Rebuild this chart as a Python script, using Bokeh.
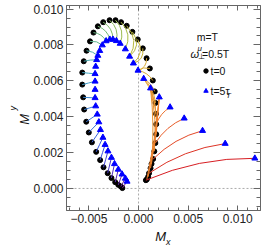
import numpy as np
from bokeh.plotting import figure
from bokeh.models import (Range1d, LinearAxis, Span, Label, Legend, LegendItem,
                          CustomJSTickFormatter, FixedTicker, ColumnDataSource)
from bokeh.embed import file_html
from bokeh.resources import INLINE

FONT = "Liberation Sans"

# magnetisation at t = 0 (black dots)
mx0 = [-0.00163, -0.00178, -0.00204, -0.00235, -0.00273, -0.00311, -0.00353, -0.00387,
       -0.00427, -0.00470, -0.00501, -0.00527, -0.00548, -0.00558, -0.00567, -0.00567,
       -0.00552, -0.00524, -0.00489, -0.00454, -0.00410, -0.00356, -0.00292, -0.00232,
       -0.00176, -0.00119, -0.00062, -0.00008, 0.00043, 0.00081, 0.00114, 0.00144,
       0.00163, 0.00171, 0.00176, 0.00178, 0.00178, 0.00169, 0.00159, 0.00147,
       0.00131, 0.00121, 0.00106, 0.00097, 0.00084, 0.00074]
my0 = [0.00002, 0.00011, 0.00020, 0.00035, 0.00058, 0.00085, 0.00118, 0.00158,
       0.00204, 0.00257, 0.00312, 0.00372, 0.00440, 0.00508, 0.00579, 0.00646,
       0.00709, 0.00768, 0.00820, 0.00869, 0.00904, 0.00927, 0.00938, 0.00938,
       0.00927, 0.00907, 0.00873, 0.00831, 0.00781, 0.00726, 0.00669, 0.00602,
       0.00541, 0.00477, 0.00416, 0.00358, 0.00302, 0.00253, 0.00207, 0.00164,
       0.00137, 0.00113, 0.00085, 0.00065, 0.00051, 0.00046]

# magnetisation at t = 5 tau_T (blue triangles)
mx5 = [-0.00116, -0.00133, -0.00166, -0.00204, -0.00242, -0.00273, -0.00308, -0.00337,
       -0.00359, -0.00384, -0.00400, -0.00416, -0.00432, -0.00438, -0.00438, -0.00438,
       -0.00438, -0.00432, -0.00422, -0.00410, -0.00391, -0.00365, -0.00327, -0.00289,
       -0.00258, -0.00223, -0.00185, -0.00133, -0.00090, -0.00052, -0.00005, 0.00052,
       0.00121, 0.00209, 0.00318, 0.00460, 0.00645, 0.00873, 0.01172]
my5 = [0.00039, 0.00056, 0.00079, 0.00106, 0.00137, 0.00172, 0.00208, 0.00244,
       0.00284, 0.00327, 0.00370, 0.00413, 0.00459, 0.00505, 0.00551, 0.00597,
       0.00639, 0.00680, 0.00717, 0.00741, 0.00768, 0.00799, 0.00822, 0.00831,
       0.00831, 0.00823, 0.00808, 0.00777, 0.00736, 0.00698, 0.00658, 0.00612,
       0.00559, 0.00509, 0.00453, 0.00391, 0.00322, 0.00250, 0.00168]

# end point (index into mx5/my5) reached by each trajectory starting at mx0/my0
end_idx = [0, 1, 2, 3, 4, 5, 6, 7, 8, 9, 10, 11, 12, 13,
           15, 16, 18, 19, 21, 22, 23, 24, 25, 26, 27, 28, 28, 29, 29, 30,
           30, 30, 31, 31, 31, 34, 32, 35, 32, 36, 32, 33, 37, 33, 33, 38]

# sideways bend of each trajectory (style, px)
bend = [0] * 14 + [0, 0, 1, 2, 3, 4, 5, 6, 7, 8, 10, 12, 12, 10, 8, 6] + \
       [-3, -4, -3, -5, -6, 4, -5, 6, -5, 8, -4, -3, 10, -3, -3, 12]

x_major = [-0.005, 0.0, 0.005, 0.010]
x_minor = [round(-0.007 + 0.001 * i, 4) for i in range(20)]
y_major = [0.000, 0.002, 0.004, 0.006, 0.008, 0.010]
y_minor = [round(-0.001 + 0.0005 * i, 5) for i in range(23)]

# colours along the family (rainbow)
stops_t = [0.00, 0.10, 0.20, 0.32, 0.42, 0.52, 0.62, 0.72, 0.80, 0.87, 0.94, 1.00]
stops_rgb = [(115, 25, 140), (85, 45, 190), (55, 85, 225), (60, 130, 215), (65, 165, 195),
             (85, 175, 160), (120, 185, 110), (175, 190, 65), (225, 170, 50), (240, 130, 45),
             (230, 80, 40), (215, 30, 35)]


def cmap(t):
    r = np.interp(t, stops_t, [c[0] for c in stops_rgb])
    g = np.interp(t, stops_t, [c[1] for c in stops_rgb])
    b = np.interp(t, stops_t, [c[2] for c in stops_rgb])
    return "#%02x%02x%02x" % (int(r), int(g), int(b))


# geometry of the quadratic curves
kx, ky = 10540.0, 18100.0
x0 = np.array(mx0)
y0 = np.array(my0)
x1 = np.array(mx5)[end_idx]
y1 = np.array(my5)[end_idx]
dxp = (x1 - x0) * kx
dyp = (y1 - y0) * ky
L = np.hypot(dxp, dyp)
nx = -dyp / L
ny = dxp / L
bnd = np.array(bend, dtype=float)
cx = (x0 + x1) / 2 + bnd * nx / kx
cy = (y0 + y1) / 2 + bnd * ny / ky
colors = [cmap(j / (len(mx5) - 1)) for j in end_idx]

curves = ColumnDataSource(dict(x0=x0, y0=y0, x1=x1, y1=y1, cx=cx, cy=cy, c=colors))

p = figure(width=267, height=249, x_range=Range1d(-0.00726, 0.01229),
           y_range=Range1d(-0.00123, 0.0102), output_backend="svg", toolbar_location=None,
           min_border_left=54, min_border_right=7, min_border_top=5, min_border_bottom=37)
p.xgrid.visible = False
p.ygrid.visible = False
p.outline_line_color = "#666666"

fmt = CustomJSTickFormatter(code="return (tick < -1e-9 ? '\u2212' : '') + Math.abs(tick).toFixed(3);")
blank = CustomJSTickFormatter(code="return '';")

xt = FixedTicker(ticks=x_major, minor_ticks=x_minor)
yt = FixedTicker(ticks=y_major, minor_ticks=y_minor)


def style_axis(ax, major_in, minor_in, labels):
    ax.axis_line_color = "#666666"
    ax.major_tick_line_color = "#666666"
    ax.minor_tick_line_color = "#666666"
    ax.major_tick_in = major_in
    ax.major_tick_out = 0
    ax.minor_tick_in = minor_in
    ax.minor_tick_out = 0
    if labels:
        ax.formatter = fmt
        ax.major_label_text_font = FONT
        ax.major_label_text_font_size = "12px"
        ax.major_label_text_color = "#222222"
        ax.major_label_standoff = 3
    else:
        ax.formatter = blank
        ax.major_label_standoff = 0


p.xaxis.ticker = xt
p.yaxis.ticker = yt
style_axis(p.xaxis[0], 5, 3, True)
style_axis(p.yaxis[0], 7, 4, True)
ax_top = LinearAxis(ticker=xt)
ax_right = LinearAxis(ticker=yt)
style_axis(ax_top, 5, 3, False)
style_axis(ax_right, 7, 4, False)
p.add_layout(ax_top, "above")
p.add_layout(ax_right, "right")


# axis titles (M with subscript), written as single tick labels of bare axes
def title_axis(pos, text, size, standoff, orient):
    ax = LinearAxis(ticker=FixedTicker(ticks=[pos], minor_ticks=[]),
                    formatter=CustomJSTickFormatter(code="return '%s';" % text))
    ax.axis_line_color = None
    ax.major_tick_line_color = None
    ax.minor_tick_line_color = None
    ax.major_tick_in = 0
    ax.major_tick_out = 0
    ax.major_label_text_font = FONT
    ax.major_label_text_font_size = size
    ax.major_label_text_font_style = "italic"
    ax.major_label_text_color = "#111111"
    ax.major_label_standoff = standoff
    ax.major_label_orientation = orient
    return ax


p.add_layout(title_axis(0.00223, "M", "13px", 3, "horizontal"), "below")
p.add_layout(title_axis(0.00299, "x", "9px", -10, "horizontal"), "below")
p.add_layout(title_axis(0.00415, "M", "13px", 6, np.pi / 2), "left")
p.add_layout(title_axis(0.00459, "y", "9px", -7, np.pi / 2), "left")

p.add_layout(Span(location=0, dimension="height", line_color="#aaaaaa",
                  line_dash="2 2", line_width=1, level="underlay"))
p.add_layout(Span(location=0, dimension="width", line_color="#aaaaaa",
                  line_dash="2 2", line_width=1, level="underlay"))

r_dots = p.scatter(mx0, my0, size=5, marker="circle", color="black")
p.quadratic(x0="x0", y0="y0", x1="x1", y1="y1", cx="cx", cy="cy",
            line_color="c", line_width=1, source=curves)
r_tri = p.scatter(mx5, my5, size=6, marker="triangle", color="#0000ff")

legend = Legend(items=[LegendItem(label="t=0", renderers=[r_dots]),
                       LegendItem(label="t=5\u03c4", renderers=[r_tri])],
                location=(133.5, 113), padding=0, margin=0, spacing=7,
                label_height=13, glyph_height=13, glyph_width=11, label_standoff=0,
                border_line_alpha=0, background_fill_alpha=0,
                label_text_font=FONT, label_text_font_size="10.5px", label_text_color="#111111")
p.add_layout(legend)


def add_text(x, y, text, size="10.5px", style="normal", align="left",
             baseline="middle", angle=0.0):
    p.add_layout(Label(x=x, y=y, text=text, text_font=FONT,
                       text_font_size=size, text_font_style=style, text_align=align,
                       text_baseline=baseline, angle=angle, text_color="#111111"))


# legend texts
add_text(0.00586, 0.00845, "m=T")
add_text(0.00524, 0.00750, "\u03c9", style="italic", size="11px")
add_text(0.00595, 0.00781, "\u03bc", size="8px", style="italic")
add_text(0.00595, 0.00733, "\u22a5", size="8px")
add_text(0.00640, 0.00750, "=0.5T")
add_text(0.00882, 0.00518, "T", size="8px", style="italic")

open("out.html", "w").write(file_html(p, INLINE))
